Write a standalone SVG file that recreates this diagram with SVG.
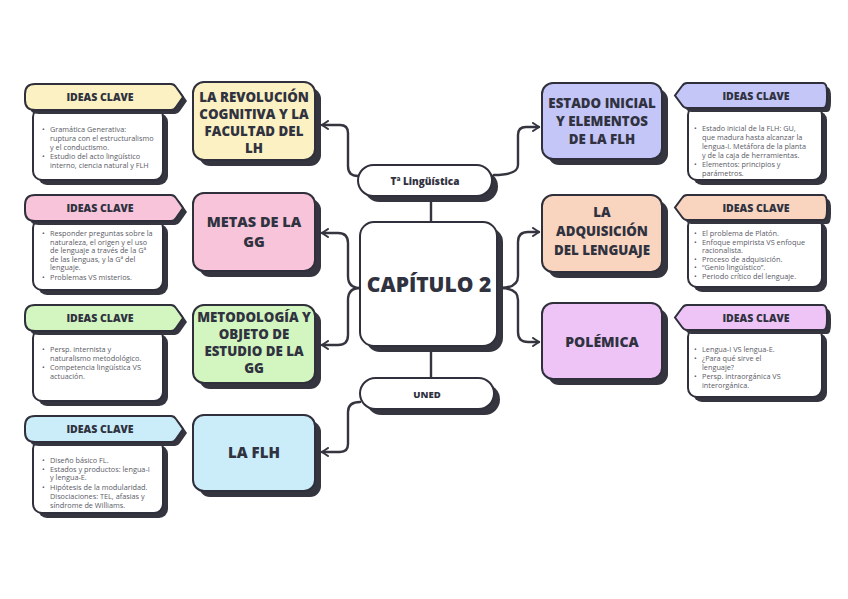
<svg xmlns="http://www.w3.org/2000/svg" xmlns:xlink="http://www.w3.org/1999/xlink" width="848" height="599" viewBox="0 0 848 599">
<style>
.sh{fill:#34353f;stroke:none}
.bx{stroke:#2f303b;stroke-width:2}
.wb{fill:#ffffff;stroke:#2f303b;stroke-width:2}
.tt{font-family:"Open Sans","Liberation Sans",sans-serif;font-weight:800;fill:#30323f;text-anchor:middle}
.hd{font-family:"Open Sans","Liberation Sans",sans-serif;font-weight:800;font-size:10.5px;fill:#30323f;text-anchor:middle}
.bt{font-family:"Open Sans","Liberation Sans",sans-serif;font-size:7.3px;fill:#5a5b66}
.cn{fill:none;stroke:#34353f;stroke-width:2.4;stroke-linecap:round;stroke-linejoin:round}
.y{fill:#fbf1c2}.p{fill:#f7c4da}.g{fill:#d3f5bf}.b{fill:#cbedfa}.v{fill:#c4c6f7}.o{fill:#f9d5bf}.l{fill:#eec4f7}
</style>
<defs>
<path id="hdrL" d="M10,0 H146 Q149,0 151,3 L158,13 L151,23 Q149,26 146,26 H10 Q0,26 0,16 V10 Q0,0 10,0 Z"/>
<path id="hdrR" d="M148,0 H12 Q9,0 7,3 L0,12.5 L7,22 Q9,25 12,25 H148 Q152,25 152,15 V10 Q152,0 148,0 Z"/>
<marker id="ar" viewBox="0 0 10 10" refX="8" refY="5" markerWidth="10" markerHeight="10" markerUnits="userSpaceOnUse" orient="auto">
<path d="M2,1 L8,5 L2,9" fill="none" stroke="#34353f" stroke-width="2" stroke-linecap="round" stroke-linejoin="round"/>
</marker>
</defs>
<rect width="848" height="599" fill="#ffffff"/>

<g id="connectors">
<path class="cn" marker-end="url(#ar)" d="M358,176 Q348,176 348,166 L348,133 Q348,125 340,125 L322,125"/>
<path class="cn" marker-end="url(#ar)" d="M360,288 Q348,288 348,276 L348,243 Q348,233 338,233 L322,233"/>
<path class="cn" marker-end="url(#ar)" d="M360,288 Q348,288 348,300 L348,335 Q348,345 338,345 L322,345"/>
<path class="cn" marker-end="url(#ar)" d="M360,402 Q348,402 348,412 L348,444 Q348,452 340,452 L322,452"/>
<path class="cn" marker-end="url(#ar)" d="M494,175 Q518,175 518,165 L518,135 Q518,127 526,127 L539,127"/>
<path class="cn" marker-end="url(#ar)" d="M500,288 Q518,288 518,276 L518,242 Q518,232 528,232 L539,232"/>
<path class="cn" marker-end="url(#ar)" d="M500,288 Q518,288 518,300 L518,332 Q518,342 528,342 L539,342"/>
<path class="cn" d="M431,197 L431,222"/>
<path class="cn" d="M431,346 L431,378"/>
</g>

<g id="centro">
<rect class="sh" x="366" y="228" width="137" height="124" rx="14"/>
<rect class="wb" x="360" y="222" width="137" height="124" rx="14"/>
<text class="tt" x="429" y="292" font-size="21">CAPÍTULO 2</text>
</g>

<g id="linguistica">
<rect class="sh" x="364" y="171" width="134" height="31" rx="15.5"/>
<rect class="wb" x="358" y="165" width="134" height="31" rx="15.5"/>
<text class="tt" x="425" y="184.5" font-size="10">Tª Lingüística</text>
</g>

<g id="uned">
<rect class="sh" x="366" y="384" width="134" height="31" rx="15.5"/>
<rect class="wb" x="360" y="378" width="134" height="31" rx="15.5"/>
<text class="tt" x="427" y="397.5" font-size="9.5">UNED</text>
</g>

<g id="revolucion">
<rect class="sh" x="199" y="88" width="122" height="78" rx="11"/>
<rect class="bx y" x="193" y="82" width="122" height="78" rx="11"/>
<text class="tt" font-size="13.3" x="254"><tspan x="254" y="102">LA REVOLUCIÓN</tspan><tspan x="254" y="119">COGNITIVA Y LA</tspan><tspan x="254" y="136">FACULTAD DEL</tspan><tspan x="254" y="153">LH</tspan></text>
</g>

<g id="metas">
<rect class="sh" x="199" y="199" width="122" height="78" rx="11"/>
<rect class="bx p" x="193" y="193" width="122" height="78" rx="11"/>
<text class="tt" font-size="14.5" x="254"><tspan x="254" y="227">METAS DE LA</tspan><tspan x="254" y="247">GG</tspan></text>
</g>

<g id="metodologia">
<rect class="sh" x="199" y="311" width="122" height="78" rx="11"/>
<rect class="bx g" x="193" y="305" width="122" height="78" rx="11"/>
<text class="tt" font-size="13.3" x="254"><tspan x="254" y="322">METODOLOGÍA Y</tspan><tspan x="254" y="339">OBJETO DE</tspan><tspan x="254" y="356">ESTUDIO DE LA</tspan><tspan x="254" y="373">GG</tspan></text>
</g>

<g id="flh">
<rect class="sh" x="199" y="421" width="122" height="76" rx="11"/>
<rect class="bx b" x="193" y="415" width="122" height="76" rx="11"/>
<text class="tt" font-size="15" x="254" y="458">LA FLH</text>
</g>

<g id="estado">
<rect class="sh" x="548" y="89" width="120" height="76" rx="11"/>
<rect class="bx v" x="542" y="83" width="120" height="76" rx="11"/>
<text class="tt" font-size="13.3" x="602"><tspan x="602" y="108">ESTADO INICIAL</tspan><tspan x="602" y="126">Y ELEMENTOS</tspan><tspan x="602" y="144">DE LA FLH</tspan></text>
</g>

<g id="adquisicion">
<rect class="sh" x="548" y="201" width="120" height="77" rx="11"/>
<rect class="bx o" x="542" y="195" width="120" height="77" rx="11"/>
<text class="tt" font-size="13.3" x="602"><tspan x="602" y="217">LA</tspan><tspan x="602" y="236">ADQUISICIÓN</tspan><tspan x="602" y="255">DEL LENGUAJE</tspan></text>
</g>

<g id="polemica">
<rect class="sh" x="548" y="309" width="120" height="76" rx="11"/>
<rect class="bx l" x="542" y="303" width="120" height="76" rx="11"/>
<text class="tt" font-size="14" x="602" y="347">POLÉMICA</text>
</g>

<g id="ideas-revolucion">
<rect class="sh" x="38" y="113" width="130" height="72" rx="9"/>
<rect class="wb" x="33" y="108" width="130" height="72" rx="9"/>
<use href="#hdrL" class="sh" x="29" y="88"/>
<use href="#hdrL" class="bx y" x="25" y="84"/>
<text class="hd" x="100" y="101">IDEAS CLAVE</text>
<text class="bt"><tspan x="42" y="132">•</tspan><tspan x="50" y="132">Gramática Generativa:</tspan><tspan x="50" y="141">ruptura con el estructuralismo</tspan><tspan x="50" y="150">y el conductismo.</tspan><tspan x="42" y="159">•</tspan><tspan x="50" y="159">Estudio del acto lingüístico</tspan><tspan x="50" y="168">interno, ciencia natural y FLH</tspan></text>
</g>

<g id="ideas-metas">
<rect class="sh" x="38" y="224" width="130" height="71" rx="9"/>
<rect class="wb" x="33" y="219" width="130" height="71" rx="9"/>
<use href="#hdrL" class="sh" x="29" y="199"/>
<use href="#hdrL" class="bx p" x="25" y="195"/>
<text class="hd" x="100" y="212">IDEAS CLAVE</text>
<text class="bt"><tspan x="42" y="236">•</tspan><tspan x="50" y="236">Responder preguntas sobre la</tspan><tspan x="50" y="244.5">naturaleza, el origen y el uso</tspan><tspan x="50" y="253">de lenguaje a través de la Gª</tspan><tspan x="50" y="261.5">de las lenguas, y la Gª del</tspan><tspan x="50" y="270">lenguaje.</tspan><tspan x="42" y="280">•</tspan><tspan x="50" y="280">Problemas VS misterios.</tspan></text>
</g>

<g id="ideas-metodologia">
<rect class="sh" x="38" y="334" width="130" height="72" rx="9"/>
<rect class="wb" x="33" y="329" width="130" height="72" rx="9"/>
<use href="#hdrL" class="sh" x="29" y="309"/>
<use href="#hdrL" class="bx g" x="25" y="305"/>
<text class="hd" x="100" y="322">IDEAS CLAVE</text>
<text class="bt"><tspan x="42" y="352">•</tspan><tspan x="50" y="352">Persp. internista y</tspan><tspan x="50" y="361">naturalismo metodológico.</tspan><tspan x="42" y="370">•</tspan><tspan x="50" y="370">Competencia lingüística VS</tspan><tspan x="50" y="379">actuación.</tspan></text>
</g>

<g id="ideas-flh">
<rect class="sh" x="38" y="445" width="130" height="73" rx="9"/>
<rect class="wb" x="33" y="440" width="130" height="73" rx="9"/>
<use href="#hdrL" class="sh" x="29" y="420"/>
<use href="#hdrL" class="bx b" x="25" y="416"/>
<text class="hd" x="100" y="433">IDEAS CLAVE</text>
<text class="bt"><tspan x="42" y="463">•</tspan><tspan x="50" y="463">Diseño básico FL.</tspan><tspan x="42" y="471.5">•</tspan><tspan x="50" y="471.5">Estados y productos: lengua-I</tspan><tspan x="50" y="480">y lengua-E.</tspan><tspan x="42" y="490">•</tspan><tspan x="50" y="490">Hipótesis de la modularidad.</tspan><tspan x="50" y="499">Disociaciones: TEL, afasias y</tspan><tspan x="50" y="508">síndrome de Williams.</tspan></text>
</g>

<g id="ideas-estado">
<rect class="sh" x="693" y="111" width="134" height="74" rx="9"/>
<rect class="wb" x="688" y="106" width="134" height="74" rx="9"/>
<use href="#hdrR" class="sh" x="679" y="87"/>
<use href="#hdrR" class="bx v" x="675" y="83"/>
<text class="hd" x="756" y="99.5">IDEAS CLAVE</text>
<text class="bt"><tspan x="694" y="131">•</tspan><tspan x="702" y="131">Estado inicial de la FLH: GU,</tspan><tspan x="702" y="140">que madura hasta alcanzar la</tspan><tspan x="702" y="149">lengua-I. Metáfora de la planta</tspan><tspan x="702" y="158">y de la caja de herramientas.</tspan><tspan x="694" y="167">•</tspan><tspan x="702" y="167">Elementos: principios y</tspan><tspan x="702" y="176">parámetros.</tspan></text>
</g>

<g id="ideas-adquisicion">
<rect class="sh" x="693" y="222" width="134" height="70" rx="9"/>
<rect class="wb" x="688" y="217" width="134" height="70" rx="9"/>
<use href="#hdrR" class="sh" x="679" y="199"/>
<use href="#hdrR" class="bx o" x="675" y="195"/>
<text class="hd" x="756" y="211.5">IDEAS CLAVE</text>
<text class="bt"><tspan x="694" y="236">•</tspan><tspan x="702" y="236">El problema de Platón.</tspan><tspan x="694" y="244.5">•</tspan><tspan x="702" y="244.5">Enfoque empirista VS enfoque</tspan><tspan x="702" y="253">racionalista.</tspan><tspan x="694" y="261.5">•</tspan><tspan x="702" y="261.5">Proceso de adquisición.</tspan><tspan x="694" y="270">•</tspan><tspan x="702" y="270">“Genio lingüístico”.</tspan><tspan x="694" y="278.5">•</tspan><tspan x="702" y="278.5">Periodo crítico del lenguaje.</tspan></text>
</g>

<g id="ideas-polemica">
<rect class="sh" x="693" y="333" width="134" height="69" rx="9"/>
<rect class="wb" x="688" y="328" width="134" height="69" rx="9"/>
<use href="#hdrR" class="sh" x="679" y="309"/>
<use href="#hdrR" class="bx l" x="675" y="305"/>
<text class="hd" x="756" y="321.5">IDEAS CLAVE</text>
<text class="bt"><tspan x="694" y="352">•</tspan><tspan x="702" y="352">Lengua-I VS lengua-E.</tspan><tspan x="694" y="361">•</tspan><tspan x="702" y="361">¿Para qué sirve el</tspan><tspan x="702" y="370">lenguaje?</tspan><tspan x="694" y="379">•</tspan><tspan x="702" y="379">Persp. intraorgánica VS</tspan><tspan x="702" y="388">interorgánica.</tspan></text>
</g>
</svg>
